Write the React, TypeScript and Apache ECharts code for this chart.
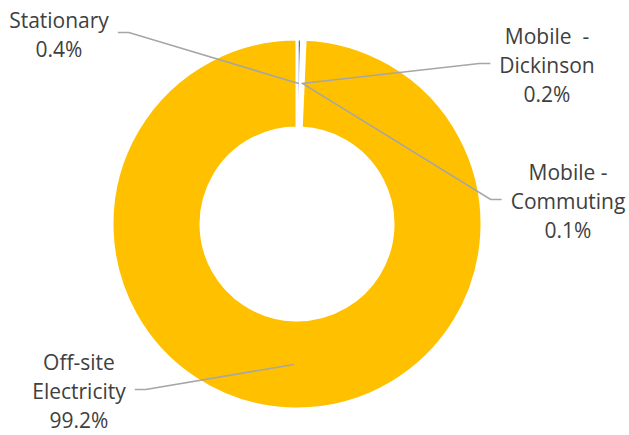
import { useEffect, useRef } from 'react';
import * as echarts from 'echarts';

const categories = ['Stationary', 'Mobile  - Dickinson', 'Mobile - Commuting', 'Off-site Electricity'];
const labelNames = ['Stationary', 'Mobile  -\nDickinson', 'Mobile -\nCommuting', 'Off-site\nElectricity'];
const values = [0.4, 0.2, 0.1, 99.2];
const colors = ['#4472C4', '#ED7D31', '#A5A5A5', '#FFC000'];

const CENTER = [297, 224];
const RADIUS = [96, 185];
const labelCenters = [[59, 34], [547, 65], [568, 201], [79, 391]];
const labelSides = [1, -1, -1, 1];

export default function App() {
  const ref = useRef<HTMLDivElement>(null);
  useEffect(() => {
    document.body.style.margin = '0';
    const chart = echarts.init(ref.current!, null, { renderer: 'svg' });
    const total = values.reduce((a, b) => a + b, 0);
    const base = {
      type: 'pie',
      center: CENTER,
      radius: RADIUS,
      startAngle: 90,
      clockwise: true,
      avoidLabelOverlap: false,
      silent: true,
      emphasis: { disabled: true },
    };
    chart.setOption({
      animation: false,
      backgroundColor: '#ffffff',
      series: [
        {
          ...base,
          z: 2,
          itemStyle: { borderColor: '#ffffff', borderWidth: 3 },
          label: { show: false },
          labelLine: { show: false },
          data: categories.map((name, i) => ({
            name,
            value: values[i],
            itemStyle: { color: colors[i] },
          })),
        },
        {
          ...base,
          z: 5,
          itemStyle: { color: 'rgba(0,0,0,0)', borderWidth: 0 },
          label: {
            show: true,
            position: 'outside',
            formatter: (p: any) => `${labelNames[p.dataIndex]}\n${values[p.dataIndex].toFixed(1)}%`,
            color: '#404040',
            fontSize: 21,
            lineHeight: 29,
            fontFamily: 'Open Sans',
            align: 'center',
          },
          labelLine: {
            show: true,
            showAbove: true,
            length: 10,
            length2: 10,
            lineStyle: { color: '#A6A6A6', width: 1.6 },
          },
          labelLayout: (params: any) => {
            const i = params.dataIndex;
            const cum = values.slice(0, i).reduce((a, b) => a + b, 0);
            const theta = (2 * Math.PI * (cum + values[i] / 2)) / total;
            const rMid = (RADIUS[0] + RADIUS[1]) / 2;
            const ax = CENTER[0] + rMid * Math.sin(theta);
            const ay = CENTER[1] - rMid * Math.cos(theta);
            const [lx, ly] = labelCenters[i];
            const dir = labelSides[i];
            const w = params.labelRect.width;
            const edge = lx + (dir * w) / 2;
            const yl = ly - 1.5;
            return {
              x: lx,
              y: ly,
              align: 'center',
              verticalAlign: 'middle',
              labelLinePoints: [
                [ax, ay],
                [edge + dir * 20, yl],
                [edge + dir * 9, yl],
              ],
            };
          },
          data: categories.map((name, i) => ({ name, value: values[i] })),
        },
      ],
    });
    return () => chart.dispose();
  }, []);
  return <div ref={ref} style={{ width: 629, height: 435 }} />;
}
